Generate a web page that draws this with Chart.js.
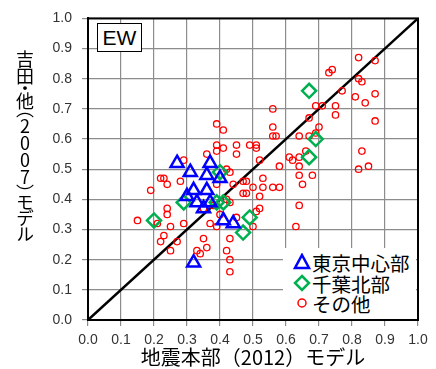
<!DOCTYPE html>
<html>
<head>
<meta charset="utf-8">
<script src="https://cdn.jsdelivr.net/npm/chart.js@4.4.1/dist/chart.umd.min.js"></script>
<style>
    body { margin: 0; background: #fff; }
    #wrap { position: relative; width: 436px; height: 369px; }
    #ytitle {
        position: absolute; left: 16px; top: 50px;
        writing-mode: vertical-rl; text-orientation: upright;
        font-family: "Noto Sans CJK JP"; font-size: 18px; line-height: 1; color: #000;
        font-feature-settings: "vpal" 1; letter-spacing: -1px;
    }
    #ew {
        position: absolute; left: 97px; top: 23px; width: 43px; height: 27px;
        border: 1.5px solid #000; background: #fff;
        font: 21px "Liberation Sans"; line-height: 27px; text-align: center; color: #000;
    }
    #legend { position: absolute; left: 283px; top: 248px; width: 133px; height: 71px; background: #fff; }
    .row {
        position: absolute; left: 10px; height: 22px; display: flex; align-items: center;
        font-family: "Noto Sans CJK JP"; font-size: 19.5px; color: #000; white-space: nowrap;
    }
    .row svg { margin-right: 1px; }
</style>
</head>
<body>
<div id="wrap">
    <canvas id="chart" width="436" height="369"></canvas>
    <div id="ytitle">吉田・他（2007）モデル</div>
    <div id="ew">EW</div>
    <div id="legend">
        <div class="row" style="top:3px"><svg width="18" height="18"><polygon points="9,2 16,15 2,15" fill="none" stroke="#0000ff" stroke-width="2.5"/></svg>東京中心部</div>
        <div class="row" style="top:24px"><svg width="18" height="18"><polygon points="9,2 16,9 9,16 2,9" fill="none" stroke="#00b050" stroke-width="2.5"/></svg>千葉北部</div>
        <div class="row" style="top:44px"><svg width="18" height="18"><circle cx="9" cy="9" r="4" fill="none" stroke="#ff0000" stroke-width="1.5"/></svg>その他</div>
    </div>
</div>
<script>
// 東京中心部
const tokyoX = [0.27, 0.31, 0.37, 0.36, 0.40, 0.32, 0.30, 0.36, 0.33, 0.37, 0.35, 0.41, 0.44, 0.32];
const tokyoY = [0.52, 0.49, 0.52, 0.48, 0.47, 0.43, 0.41, 0.43, 0.39, 0.39, 0.37, 0.33, 0.32, 0.19];

// 千葉北部
const chibaX = [0.20, 0.29, 0.39, 0.41, 0.40, 0.47, 0.49, 0.67, 0.69, 0.67];
const chibaY = [0.33, 0.39, 0.39, 0.39, 0.49, 0.29, 0.34, 0.76, 0.60, 0.54];

// その他
const otherX = [
    0.39, 0.41, 0.39, 0.41, 0.39, 0.45, 0.49, 0.51, 0.51, 0.45, 0.36, 0.29, 0.52,
    0.82, 0.87, 0.74, 0.73, 0.82, 0.83, 0.77, 0.81, 0.87, 0.84, 0.69, 0.71, 0.75, 0.75,
    0.56, 0.67, 0.87, 0.56, 0.70, 0.69, 0.56, 0.57, 0.64, 0.67, 0.66, 0.83, 0.61, 0.62,
    0.64, 0.64, 0.58, 0.82, 0.85,
    0.53, 0.64, 0.68, 0.65, 0.50, 0.53, 0.56, 0.58, 0.52, 0.64, 0.52, 0.51, 0.63, 0.50,
    0.22, 0.23, 0.24, 0.19, 0.28, 0.42, 0.43, 0.39, 0.44, 0.47, 0.48, 0.47, 0.48, 0.42,
    0.43, 0.24, 0.24, 0.38, 0.35, 0.40, 0.45, 0.15, 0.21, 0.29, 0.25, 0.37, 0.39, 0.23,
    0.22, 0.27, 0.25, 0.35, 0.36, 0.33, 0.34, 0.43, 0.42, 0.43, 0.43
];
const otherY = [
    0.65, 0.63, 0.58, 0.57, 0.56, 0.58, 0.58, 0.58, 0.57, 0.55, 0.55, 0.53, 0.53,
    0.87, 0.86, 0.83, 0.82, 0.80, 0.79, 0.76, 0.74, 0.75, 0.72, 0.71, 0.71, 0.71, 0.68,
    0.70, 0.67, 0.66, 0.64, 0.64, 0.62, 0.61, 0.61, 0.61, 0.61, 0.56, 0.56, 0.54, 0.53,
    0.54, 0.51, 0.51, 0.50, 0.51,
    0.47, 0.48, 0.48, 0.45, 0.44, 0.44, 0.44, 0.44, 0.41, 0.38, 0.37, 0.36, 0.31, 0.31,
    0.47, 0.47, 0.45, 0.43, 0.46, 0.50, 0.49, 0.45, 0.45, 0.46, 0.46, 0.42, 0.42, 0.40,
    0.39, 0.37, 0.35, 0.38, 0.37, 0.35, 0.34, 0.33, 0.32, 0.32, 0.31, 0.32, 0.31, 0.28,
    0.26, 0.26, 0.23, 0.27, 0.24, 0.23, 0.22, 0.27, 0.23, 0.20, 0.16
];

// 1:1 line
const lineX = [0, 1];
const lineY = [0, 1];

const toPoints = (xs, ys) => xs.map((x, i) => ({ x: x, y: ys[i] }));

const tickFont = { family: "Liberation Sans", size: 14 };

// frame around the plot area (top and right edges too)
const framePlugin = {
    id: "frame",
    afterDraw(chart) {
        const { ctx, chartArea: a } = chart;
        ctx.save();
        ctx.strokeStyle = "#000";
        ctx.lineWidth = 2;
        ctx.strokeRect(a.left, a.top, a.right - a.left, a.bottom - a.top);
        ctx.restore();
    }
};

new Chart(document.getElementById("chart"), {
    type: "scatter",
    data: {
        datasets: [
            {
                label: "東京中心部",
                data: toPoints(tokyoX, tokyoY),
                pointStyle: "triangle",
                pointRadius: 7.5,
                borderColor: "#0000ff",
                backgroundColor: "rgba(0,0,0,0)",
                borderWidth: 2.5
            },
            {
                label: "千葉北部",
                data: toPoints(chibaX, chibaY),
                pointStyle: "rectRot",
                pointRadius: 7,
                borderColor: "#00b050",
                backgroundColor: "rgba(0,0,0,0)",
                borderWidth: 2.5
            },
            {
                label: "その他",
                data: toPoints(otherX, otherY),
                pointStyle: "circle",
                pointRadius: 3.2,
                borderColor: "#ff0000",
                backgroundColor: "rgba(0,0,0,0)",
                borderWidth: 1.3
            },
            {
                label: "1:1",
                data: toPoints(lineX, lineY),
                showLine: true,
                pointRadius: 0,
                borderColor: "#000",
                borderWidth: 2.5
            }
        ]
    },
    options: {
        responsive: false,
        animation: false,
        layout: { padding: { top: 14, right: 18, left: 0, bottom: 0 } },
        plugins: {
            legend: { display: false },
            tooltip: { enabled: false }
        },
        scales: {
            x: {
                type: "linear",
                min: 0,
                max: 1,
                ticks: {
                    stepSize: 0.1,
                    callback: v => Number(v).toFixed(1),
                    font: tickFont,
                    color: "#333",
                    padding: 6,
                    maxRotation: 0
                },
                grid: { color: "#8c8c8c", lineWidth: 1.2, tickLength: 6 },
                border: { color: "#000", width: 2 },
                title: {
                    display: true,
                    text: "地震本部（2012）モデル",
                    font: { family: "Noto Sans CJK JP", size: 20 },
                    color: "#000",
                    padding: { top: 0, bottom: 0 }
                },
                afterFit(scale) { scale.height = 49; }
            },
            y: {
                type: "linear",
                min: 0,
                max: 1,
                ticks: {
                    stepSize: 0.1,
                    callback: v => Number(v).toFixed(1),
                    font: tickFont,
                    color: "#333",
                    padding: 10
                },
                grid: { color: "#8c8c8c", lineWidth: 1.2, tickLength: 6 },
                border: { color: "#000", width: 2 },
                afterFit(scale) { scale.width = 88; }
            }
        }
    },
    plugins: [framePlugin]
});
</script>
</body>
</html>
